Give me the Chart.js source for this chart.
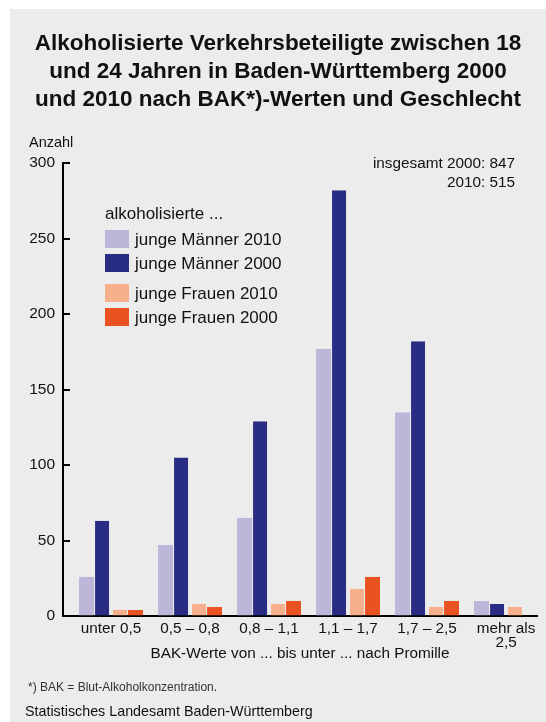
<!DOCTYPE html>
<html><head><meta charset="utf-8">
<script src="https://cdn.jsdelivr.net/npm/chart.js@4.4.1/dist/chart.umd.min.js"></script>
<style>
html,body{margin:0;padding:0;background:#fff;}
#wrap{position:relative;width:546px;height:722px;overflow:hidden;font-family:"Liberation Sans",Arial,sans-serif;color:#111;}
#panel{position:absolute;left:10px;top:9px;right:0;bottom:0;background:#ececec;}
#c{position:absolute;left:0;top:0;}
.t{position:absolute;white-space:nowrap;}
#title{left:10px;width:536px;top:29px;text-align:center;font-weight:bold;font-size:22.5px;line-height:28px;color:#111;}
#anz{left:29px;top:135px;font-size:14.5px;line-height:14.5px;}
#ges{right:31px;top:152.5px;text-align:right;font-size:15.3px;line-height:19.5px;}
#fn{left:28px;top:681px;font-size:12px;line-height:12px;color:#333;}
#src{left:25px;top:704px;font-size:14.3px;line-height:14.3px;color:#111;}
</style></head>
<body>
<div id="wrap">
  <div id="panel"></div>
  <canvas id="c" width="546" height="722"></canvas>
  <div class="t" id="title">Alkoholisierte Verkehrsbeteiligte zwischen 18<br>und 24 Jahren in Baden-Württemberg 2000<br>und 2010 nach BAK*)-Werten und Geschlecht</div>
  <div class="t" id="anz">Anzahl</div>
  <div class="t" id="ges">insgesamt 2000: 847<br>2010: 515</div>
  <div class="t" id="fn">*) BAK = Blut-Alkoholkonzentration.</div>
  <div class="t" id="src">Statistisches Landesamt Baden-Württemberg</div>
</div>
<script>
const categories = ['unter 0,5', '0,5 – 0,8', '0,8 – 1,1', '1,1 – 1,7', '1,7 – 2,5', ['mehr als', '2,5']];
const maenner2010 = [26, 47, 65, 177, 135, 10];
const maenner2000 = [63, 105, 129, 282, 182, 8];
const frauen2010 = [4, 8, 8, 18, 6, 6];
const frauen2000 = [4, 6, 10, 26, 10, 0];
const seriesLabels = ['junge Männer 2010', 'junge Männer 2000', 'junge Frauen 2010', 'junge Frauen 2000'];
const seriesColors = ['#bcb6d8', '#282d83', '#f6b08b', '#e95322'];
const yTicks = [0, 50, 100, 150, 200, 250, 300];
const legendTitle = 'alkoholisierte ...';
const xTitle = 'BAK-Werte von ... bis unter ... nach Promille';

const FONT = '"Liberation Sans", Arial, sans-serif';
const series = [maenner2010, maenner2000, frauen2010, frauen2000];
const borders = [{right: 1}, {right: 2}, {left: 2}, {left: 1}];

const legendPlugin = {
  id: 'customLegend',
  afterDraw(chart) {
    const ctx = chart.ctx;
    ctx.save();
    ctx.font = '17px ' + FONT;
    ctx.fillStyle = '#111';
    ctx.textAlign = 'left';
    ctx.textBaseline = 'alphabetic';
    ctx.fillText(legendTitle, 105, 219);
    const tops = [230, 254, 284, 308];
    chart.data.datasets.forEach((ds, i) => {
      ctx.fillStyle = ds.backgroundColor;
      ctx.fillRect(105, tops[i], 24, 18);
      ctx.fillStyle = '#111';
      ctx.fillText(ds.label, 135, tops[i] + 15);
    });
    // inward y tick marks
    const ys = chart.scales.y, a = chart.chartArea;
    ctx.strokeStyle = '#000';
    ctx.lineWidth = 2;
    ys.ticks.forEach(t => {
      const py = Math.round(ys.getPixelForValue(t.value));
      ctx.beginPath();
      ctx.moveTo(a.left, py);
      ctx.lineTo(a.left + 7, py);
      ctx.stroke();
    });
    ctx.restore();
  }
};

new Chart(document.getElementById('c'), {
  type: 'bar',
  data: {
    datasets: series.map((vals, k) => ({
      label: seriesLabels[k],
      data: vals.map((v, i) => ({x: i, y: v})),
      backgroundColor: seriesColors[k],
      borderColor: 'rgba(0,0,0,0)',
      borderWidth: borders[k],
      borderSkipped: 'start',
      barThickness: 16,
      inflateAmount: 0
    }))
  },
  options: {
    responsive: false,
    animation: false,
    devicePixelRatio: 1,
    layout: {padding: {left: 0, right: 9, top: 163, bottom: 56}},
    plugins: {legend: {display: false}, tooltip: {enabled: false}, title: {display: false}},
    scales: {
      x: {
        type: 'linear',
        offset: false,
        bounds: 'data',
        min: -0.608,
        max: 5.392,
        afterBuildTicks: s => { s.ticks = categories.map((_, i) => ({value: i})); },
        afterFit: s => { s.height = 50; },
        grid: {display: true, offset: false, drawOnChartArea: false, drawTicks: false, color: 'rgba(0,0,0,0)'},
        border: {display: true, width: 2, color: '#000'},
        ticks: {
          callback: v => categories[v],
          includeBounds: false,
          autoSkip: false, maxRotation: 0, minRotation: 0,
          padding: 6, color: '#111',
          font: {family: FONT, size: 15.3, lineHeight: 0.9}
        },
        title: {display: true, text: xTitle, color: '#111', padding: {top: 0, bottom: 3},
          font: {family: FONT, size: 15.3, lineHeight: 1.2}}
      },
      y: {
        min: 0, max: 300,
        afterBuildTicks: s => { s.ticks = yTicks.map(v => ({value: v})); },
        afterFit: s => { s.width = 63; },
        grid: {display: true, drawOnChartArea: false, drawTicks: false, color: 'rgba(0,0,0,0)'},
        border: {display: true, width: 2, color: '#000'},
        ticks: {padding: 8, color: '#111', font: {family: FONT, size: 15.5}}
      }
    }
  },
  plugins: [legendPlugin]
});
</script>
</body></html>
